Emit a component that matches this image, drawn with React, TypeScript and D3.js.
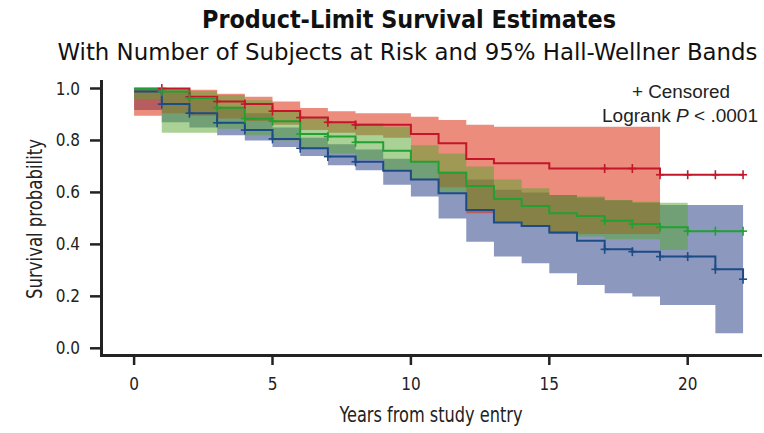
import React from "react";
import * as d3 from "d3";

// ---- data (intervals start at year index, step after) ----
const redSurv = [1.0, 1.0, 0.968, 0.95, 0.94, 0.913, 0.888, 0.87, 0.86, 0.86, 0.825, 0.789, 0.729, 0.712, 0.712, 0.692, 0.692, 0.692, 0.692, 0.668, 0.668, 0.668];
const redEnd = 0.668;
const greenSurv = [0.998, 0.988, 0.963, 0.926, 0.884, 0.874, 0.825, 0.815, 0.793, 0.76, 0.718, 0.676, 0.625, 0.575, 0.548, 0.52, 0.509, 0.491, 0.478, 0.466, 0.451, 0.451];
const greenEnd = 0.451;
const blueSurv = [0.988, 0.94, 0.905, 0.868, 0.84, 0.806, 0.77, 0.738, 0.718, 0.683, 0.65, 0.597, 0.532, 0.484, 0.471, 0.446, 0.414, 0.381, 0.372, 0.353, 0.353, 0.304];
const blueEnd = 0.266;

const redLo = [0.895, 0.905, 0.895, 0.885, 0.875, 0.86, 0.84, 0.83, 0.82, 0.81, 0.72, 0.62, 0.52, 0.487, 0.47, 0.44, 0.44, 0.44, 0.44];
const redHi = [1.0, 1.0, 0.995, 0.98, 0.968, 0.95, 0.925, 0.912, 0.905, 0.905, 0.891, 0.879, 0.86, 0.853, 0.853, 0.853, 0.853, 0.853, 0.853];
const greenLo = [0.96, 0.83, 0.83, 0.845, 0.82, 0.8, 0.77, 0.75, 0.725, 0.686, 0.648, 0.6, 0.535, 0.49, 0.47, 0.44, 0.43, 0.42, 0.42, 0.378];
const greenHi = [1.0, 1.0, 0.99, 0.975, 0.955, 0.91, 0.89, 0.872, 0.866, 0.853, 0.782, 0.75, 0.7, 0.65, 0.616, 0.59, 0.584, 0.571, 0.564, 0.56];
const blueLo = [0.917, 0.87, 0.85, 0.82, 0.8, 0.775, 0.74, 0.705, 0.685, 0.63, 0.584, 0.5, 0.41, 0.353, 0.327, 0.289, 0.244, 0.212, 0.199, 0.167, 0.167, 0.058];
const blueHi = [1.0, 0.99, 0.96, 0.93, 0.905, 0.85, 0.81, 0.785, 0.765, 0.73, 0.72, 0.68, 0.65, 0.61, 0.6, 0.59, 0.58, 0.57, 0.56, 0.552, 0.552, 0.552];

const censorYears = [1, 2, 3, 4, 5, 6, 7, 8, 17, 18, 19, 20, 21, 22];
const xTicks = [0, 5, 10, 15, 20];
const yTicks = [0, 0.2, 0.4, 0.6, 0.8, 1.0];

const titleText = "Product-Limit Survival Estimates";
const subtitleText = "With Number of Subjects at Risk and 95% Hall-Wellner Bands";
const xTitle = "Years from study entry";
const yTitle = "Survival probability";

const FONT = "'Liberation Sans Narrow', 'DejaVu Sans Condensed', 'Arial Narrow', sans-serif";
const FONT2 = "'Liberation Sans', Arial, sans-serif";

type Pt = { t: number; v: number };
type Bd = { t: number; lo: number; hi: number };

function linePts(s: number[], end: number): Pt[] {
  const p = s.map((v, i) => ({ t: i, v }));
  p.push({ t: s.length, v: end });
  return p;
}
function bandPts(lo: number[], hi: number[]): Bd[] {
  const p = lo.map((l, i) => ({ t: i, lo: l, hi: hi[i] }));
  p.push({ t: lo.length, lo: lo[lo.length - 1], hi: hi[hi.length - 1] });
  return p;
}
function valAt(s: number[], end: number, t: number) {
  return t >= s.length ? end : s[t];
}

export default function App() {
  const x = d3.scaleLinear().domain([0, 20]).range([134.1, 687.7]);
  const y = d3.scaleLinear().domain([0, 1]).range([348.3, 88.5]);

  const area = d3
    .area<Bd>()
    .x((d) => x(d.t))
    .y0((d) => y(d.lo))
    .y1((d) => y(d.hi))
    .curve(d3.curveStepAfter);
  const line = d3
    .line<Pt>()
    .x((d) => x(d.t))
    .y((d) => y(d.v))
    .curve(d3.curveStepAfter);

  const groups = [
    { s: blueSurv, end: blueEnd, lo: blueLo, hi: blueHi, line: "#1d4b86", fill: "#19317d", op: 0.5 },
    { s: redSurv, end: redEnd, lo: redLo, hi: redHi, line: "#c3162b", fill: "#da2e12", op: 0.55 },
    { s: greenSurv, end: greenEnd, lo: greenLo, hi: greenHi, line: "#22a032", fill: "#55a52d", op: 0.5 },
  ];

  return (
    <svg width={764} height={433} style={{ position: "absolute", left: 0, top: 0, background: "#fff" }}>
      <rect x={0} y={0} width={764} height={433} fill="#fff" />
      <text x={409} y={28} textAnchor="middle" fontFamily={FONT} fontWeight="bold" fontSize={25} fill="#111"
        textLength={414} lengthAdjust="spacingAndGlyphs">{titleText}</text>
      <text x={407.5} y={60} textAnchor="middle" fontFamily={FONT} fontSize={23} fill="#111"
        textLength={700} lengthAdjust="spacingAndGlyphs">{subtitleText}</text>

      {groups.map((g, i) => (
        <path key={"b" + i} d={area(bandPts(g.lo, g.hi)) || ""} fill={g.fill} fillOpacity={g.op} stroke="none" />
      ))}
      {groups.map((g, i) => (
        <path key={"l" + i} d={line(linePts(g.s, g.end)) || ""} fill="none" stroke={g.line} strokeWidth={2} />
      ))}
      {groups.map((g, i) =>
        censorYears.map((t) => {
          const cx = x(t);
          const cy = y(valAt(g.s, g.end, t));
          return (
            <g key={"c" + i + "-" + t} stroke={g.line} strokeWidth={1.6}>
              <line x1={cx - 4} x2={cx + 4} y1={cy} y2={cy} />
              <line x1={cx} x2={cx} y1={cy - 4.5} y2={cy + 4.5} />
            </g>
          );
        })
      )}

      {/* axes */}
      <line x1={101.5} x2={101.5} y1={80} y2={356.5} stroke="#222" strokeWidth={3} />
      <line x1={100} x2={762} y1={355.5} y2={355.5} stroke="#222" strokeWidth={3} />
      {yTicks.map((v) => (
        <g key={"yt" + v}>
          <line x1={90} x2={101} y1={y(v)} y2={y(v)} stroke="#222" strokeWidth={2.5} />
          <text x={80} y={y(v) + 6} textAnchor="end" fontFamily={FONT} fontSize={17} fill="#222">
            {v.toFixed(1)}
          </text>
        </g>
      ))}
      {xTicks.map((v) => (
        <g key={"xt" + v}>
          <line x1={x(v)} x2={x(v)} y1={356} y2={365} stroke="#222" strokeWidth={2.5} />
          <text x={x(v)} y={390} textAnchor="middle" fontFamily={FONT} fontSize={17} fill="#222">
            {v}
          </text>
        </g>
      ))}
      <text x={431} y={422} textAnchor="middle" fontFamily={FONT} fontSize={21} fill="#222"
        textLength={183} lengthAdjust="spacingAndGlyphs">{xTitle}</text>
      <text transform="translate(42,219) rotate(-90)" textAnchor="middle" fontFamily={FONT} fontSize={21} fill="#222"
        textLength={160} lengthAdjust="spacingAndGlyphs">{yTitle}</text>

      <text x={681} y={98} textAnchor="middle" fontFamily={FONT2} fontSize={18} fill="#222"
        textLength={98} lengthAdjust="spacingAndGlyphs">+ Censored</text>
      <text x={680} y={122} textAnchor="middle" fontFamily={FONT2} fontSize={18} fill="#222"
        textLength={156} lengthAdjust="spacingAndGlyphs">
        Logrank <tspan fontStyle="italic">P</tspan> &lt; .0001
      </text>
    </svg>
  );
}
